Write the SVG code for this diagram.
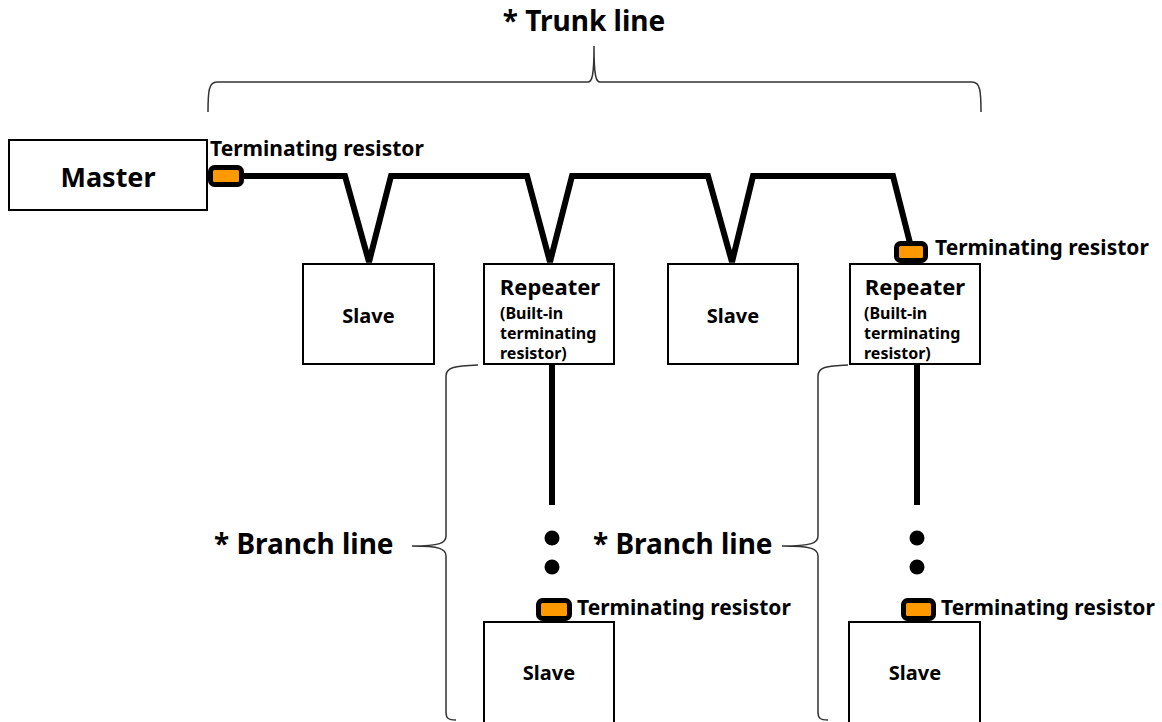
<svg xmlns="http://www.w3.org/2000/svg" width="1162" height="722" viewBox="0 0 1162 722">
  <defs>
    <style>
      .box { fill: #ffffff; stroke: #000000; stroke-width: 2; }
      .txt { font-family: "Noto Sans", "Liberation Sans", sans-serif; font-weight: bold; fill: #000000; }
      .title { font-size: 28px; }
      .name { font-size: 27px; }
      .node { font-size: 20px; }
      .rep { font-size: 22px; }
      .sub { font-size: 16px; }
      .res-label { font-size: 21px; }
      .brace { fill: none; stroke: #333333; stroke-width: 1.5; }
      .cable { fill: none; stroke: #000000; stroke-width: 6; stroke-linejoin: miter; stroke-miterlimit: 3; }
      .res { fill: #ff9900; stroke: #000000; stroke-width: 5; }
    </style>
  </defs>

  <rect width="1162" height="722" fill="#ffffff"/>

  <!-- trunk line brace and label -->
  <g id="trunk-label">
    <text class="txt title" x="584" y="31" text-anchor="middle">* Trunk line</text>
    <path class="brace" d="M208,112 C208,90 209,82 217,82 L588,82 C592,82 594,76 594,46 C594,76 596,82 600,82 L972,82 C980,82 981,90 981,112"/>
  </g>

  <!-- connectors -->
  <g id="connectors">
    <path class="cable" d="M244,176 L345,176 L369,262 L391,176 L527,176 L550,262 L572,176 L708,176 L732,262 L753,176 L893,176 L910,243"/>
    <line class="cable" x1="552" y1="364" x2="552" y2="505"/>
    <line class="cable" x1="917" y1="364" x2="917" y2="505"/>
    <circle cx="552" cy="538" r="7.5" fill="#000000"/>
    <circle cx="552" cy="567" r="7.5" fill="#000000"/>
    <circle cx="917" cy="538" r="7.5" fill="#000000"/>
    <circle cx="917" cy="567" r="7.5" fill="#000000"/>
  </g>

  <!-- master -->
  <g id="master">
    <rect class="box" x="9" y="140" width="198" height="70"/>
    <text class="txt name" x="108" y="187" text-anchor="middle">Master</text>
  </g>

  <!-- terminating resistors -->
  <g id="resistor-master">
    <rect class="res" x="210.5" y="167.5" width="31" height="17" rx="4"/>
    <text class="txt res-label" x="210" y="156">Terminating resistor</text>
  </g>
  <g id="resistor-repeater2">
    <rect class="res" x="896.5" y="243.5" width="29" height="17" rx="4"/>
    <text class="txt res-label" x="935" y="255">Terminating resistor</text>
  </g>
  <g id="resistor-branch1">
    <rect class="res" x="538.5" y="600.5" width="31" height="18" rx="4"/>
    <text class="txt res-label" x="577" y="615">Terminating resistor</text>
  </g>
  <g id="resistor-branch2">
    <rect class="res" x="903.5" y="600.5" width="30" height="18" rx="4"/>
    <text class="txt res-label" x="941" y="615">Terminating resistor</text>
  </g>

  <!-- slaves on trunk -->
  <g id="slave1">
    <rect class="box" x="303" y="264" width="131" height="100"/>
    <text class="txt node" x="368.5" y="323" text-anchor="middle">Slave</text>
  </g>
  <g id="slave2">
    <rect class="box" x="668" y="264" width="130" height="100"/>
    <text class="txt node" x="733" y="323" text-anchor="middle">Slave</text>
  </g>

  <!-- repeaters -->
  <g id="repeater1">
    <rect class="box" x="484" y="264" width="130" height="100"/>
    <text class="txt rep" x="550" y="295" text-anchor="middle">Repeater</text>
    <text class="txt sub" x="500" y="319">(Built-in</text>
    <text class="txt sub" x="500" y="339">terminating</text>
    <text class="txt sub" x="500" y="359">resistor)</text>
  </g>
  <g id="repeater2">
    <rect class="box" x="850" y="264" width="130" height="100"/>
    <text class="txt rep" x="915" y="295" text-anchor="middle">Repeater</text>
    <text class="txt sub" x="864" y="319">(Built-in</text>
    <text class="txt sub" x="864" y="339">terminating</text>
    <text class="txt sub" x="864" y="359">resistor)</text>
  </g>

  <!-- slaves on branches -->
  <g id="slave3">
    <rect class="box" x="484" y="622" width="130" height="110"/>
    <text class="txt node" x="549" y="680" text-anchor="middle">Slave</text>
  </g>
  <g id="slave4">
    <rect class="box" x="849" y="622" width="131" height="110"/>
    <text class="txt node" x="915" y="680" text-anchor="middle">Slave</text>
  </g>

  <!-- branch line braces and labels -->
  <g id="branch-label1">
    <text class="txt title" x="214" y="554">* Branch line</text>
    <path class="brace" d="M478,365 C455,366 446,367 446,376 L446,536 C446,543 440,546 412,546 C440,546 446,549 446,556 L446,712 C446,718 448,720 456,720"/>
  </g>
  <g id="branch-label2">
    <text class="txt title" x="593" y="554">* Branch line</text>
    <path class="brace" d="M848,365 C826,366 818,367 818,376 L818,536 C818,543 812,546 782,546 C812,546 818,549 818,556 L818,712 C818,718 820,720 828,720"/>
  </g>
</svg>
